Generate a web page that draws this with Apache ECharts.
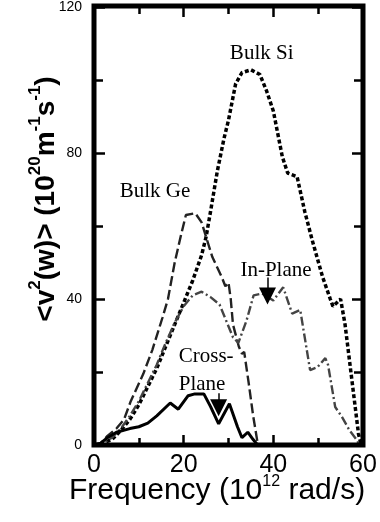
<!DOCTYPE html>
<html>
<head>
<meta charset="utf-8">
<script src="https://cdn.jsdelivr.net/npm/echarts@6/dist/echarts.min.js"></script>
<style>
  html, body { margin: 0; padding: 0; background: #fff; }
  #chart { width: 380px; height: 522px; }
</style>
</head>
<body>
<div id="chart"></div>
<script>
// frequency (10^12 rad/s) and <v^2(w)> values
var siFreq = [0, 2, 4, 6, 8, 10, 12, 14, 16, 18, 20, 22, 24, 25, 26, 27.5, 29, 30, 31.6, 33, 35, 37, 38.5, 40, 42, 43.2, 45.3, 47, 48.7, 51, 52.7, 53.3, 55, 56, 57.5, 59, 59.6];
var siVal  = [0, 0.5, 1.5, 4, 7, 11, 16, 21, 27, 33, 39, 45, 52, 57, 64, 75, 84, 89, 99, 102, 102.8, 101.5, 97, 91.5, 79, 74.5, 73.5, 64, 56, 46, 40, 38, 40, 33, 18, 3, 0];

var geFreq = [0, 1.5, 3, 5, 6.7, 8.2, 11, 13, 15.3, 16.5, 18, 19.5, 20.5, 22.6, 24, 25, 26.4, 28.5, 29.3, 30, 30.5, 31, 32.3, 33, 33.5, 34.5, 35.5, 36.5];
var geVal  = [0, 0.5, 2.5, 4.5, 7, 12, 19.5, 26, 35, 40, 50, 58, 63, 63.5, 61, 57, 51.5, 46, 43.5, 44.5, 40, 33, 27, 25, 25.5, 17, 8, 0.5];

var inFreq = [0, 2, 4, 6, 8, 10, 12, 14, 16, 18, 20, 22, 24, 26, 28, 29.5, 31, 32.2, 34, 35.6, 37.5, 40, 42.2, 44.2, 46, 48.2, 49.8, 51.6, 52.2, 53.8, 55.3, 57, 58.6, 59.2];
var inVal  = [0, 0.5, 2, 4.5, 8, 12, 17, 22, 28, 33.5, 38, 41, 42, 40.5, 38.5, 34, 29.5, 28, 34, 41, 41.5, 39.6, 43.2, 36, 37, 20.5, 21.3, 23.8, 22, 10.4, 7.7, 4, 1.4, 0];

var crossFreq = [0, 1.5, 3, 5, 8, 10, 12, 14, 17, 18.8, 21, 22.5, 24.5, 26, 27.8, 30.2, 32, 33, 34.3, 35.5, 36.5];
var crossVal  = [0, 0.5, 2, 3.5, 4.5, 5, 6, 8, 11.5, 9.8, 13.5, 14, 14, 10.5, 5.8, 11.3, 5, 2, 3.5, 1.5, 0];

var xTicks = [0, 20, 40, 60];
var yTicks = [0, 40, 80, 120];

function pairs(xs, ys) {
  return xs.map(function (x, i) { return [x, ys[i]]; });
}

var chart = echarts.init(document.getElementById('chart'), null, { renderer: 'canvas' });

var serif = 'Liberation Serif';
var sans = 'Liberation Sans';
// plot box in pixels
var G = { left: 94, right: 17, top: 6, bottom: 77 };

function tick(len) {
  return { show: true, inside: true, length: len, lineStyle: { color: '#000', width: 2.5 } };
}

function xAx(pos, labels) {
  return {
    type: 'value', position: pos, min: xTicks[0], max: xTicks[xTicks.length - 1], interval: 20,
    axisLine: { show: false, onZero: false },
    axisTick: tick(10),
    minorTick: Object.assign(tick(7), { splitNumber: 2 }),
    splitLine: { show: false },
    axisLabel: { show: labels, fontSize: 25, fontFamily: sans, color: '#000', margin: 8 }
  };
}
function yAx(pos, labels) {
  return {
    type: 'value', position: pos, min: yTicks[0], max: yTicks[yTicks.length - 1], interval: 40,
    axisLine: { show: false, onZero: false },
    axisTick: tick(11),
    minorTick: Object.assign(tick(9), { splitNumber: 2 }),
    splitLine: { show: false },
    axisLabel: { show: labels, fontSize: 14, fontFamily: sans, color: '#000', margin: 12 }
  };
}

function arrow(x, y0, y1) {
  return {
    silent: true, symbol: ['none', 'triangle'], symbolSize: 17,
    lineStyle: { color: '#000', width: 1.5, type: 'solid' }, label: { show: false },
    itemStyle: { color: '#000' },
    data: [[{ coord: [x, y0] }, { coord: [x, y1] }]]
  };
}

var option = {
  animation: false,
  backgroundColor: '#fff',
  grid: G,
  xAxis: [xAx('bottom', true), xAx('top', false)],
  yAxis: [yAx('left', true), yAx('right', false)],
  series: [
    {
      name: 'Bulk Si', type: 'line', data: pairs(siFreq, siVal), showSymbol: false,
      lineStyle: { color: '#000', width: 3.5, type: [4, 2.5] }
    },
    {
      name: 'Bulk Ge', type: 'line', data: pairs(geFreq, geVal), showSymbol: false,
      lineStyle: { color: '#222', width: 2.4, type: [10, 4] }
    },
    {
      name: 'In-Plane', type: 'line', data: pairs(inFreq, inVal), showSymbol: false,
      lineStyle: { color: '#444', width: 2.4, type: [9, 3, 2, 3] },
      markLine: arrow(38.7, 45.9, 40.8)
    },
    {
      name: 'Cross-Plane', type: 'line', data: pairs(crossFreq, crossVal), showSymbol: false,
      lineStyle: { color: '#000', width: 3 },
      markLine: arrow(27.8, 14.2, 10.2),
      markPoint: {
        silent: true, symbol: 'circle', symbolSize: 0,
        label: { show: true, position: 'inside', color: '#000', fontFamily: serif, fontSize: 21, formatter: '{b}' },
        data: [
          { name: 'Bulk Si', coord: [37.4, 107.2] },
          { name: 'Bulk Ge', coord: [13.6, 69.4] },
          { name: 'In-Plane', coord: [40.6, 47.8] },
          { name: 'Cross-\nPlane', coord: [18.9, 20.5], label: { align: 'left', lineHeight: 28 } }
        ]
      }
    }
  ],
  graphic: [
    {
      // thick frame round the plot box
      type: 'rect', z: 100, silent: true,
      shape: { x: G.left, y: G.top, width: 380 - G.left - G.right, height: 522 - G.top - G.bottom },
      style: { fill: null, stroke: '#000', lineWidth: 5 }
    },
    {
      type: 'text', x: 217, y: 491,
      style: {
        text: 'Frequency (10{s|12} rad/s)',
        font: '30px "Liberation Sans"', fill: '#000', lineHeight: 34,
        align: 'center', verticalAlign: 'middle',
        rich: { s: { fontSize: 16, fontFamily: sans, lineHeight: 26, verticalAlign: 'top' } }
      }
    },
    {
      type: 'text', x: 46, y: 199, rotation: Math.PI / 2,
      style: {
        text: '<v{s|2}(w)> (10{s|20}m{s|-1}s{s|-1})',
        font: 'bold 28px "Liberation Sans"', fill: '#000', lineHeight: 38,
        align: 'center', verticalAlign: 'middle',
        rich: { s: { fontSize: 17, fontWeight: 'bold', fontFamily: sans, lineHeight: 14, verticalAlign: 'top' } }
      }
    }
  ]
};

chart.setOption(option);
</script>
</body>
</html>
